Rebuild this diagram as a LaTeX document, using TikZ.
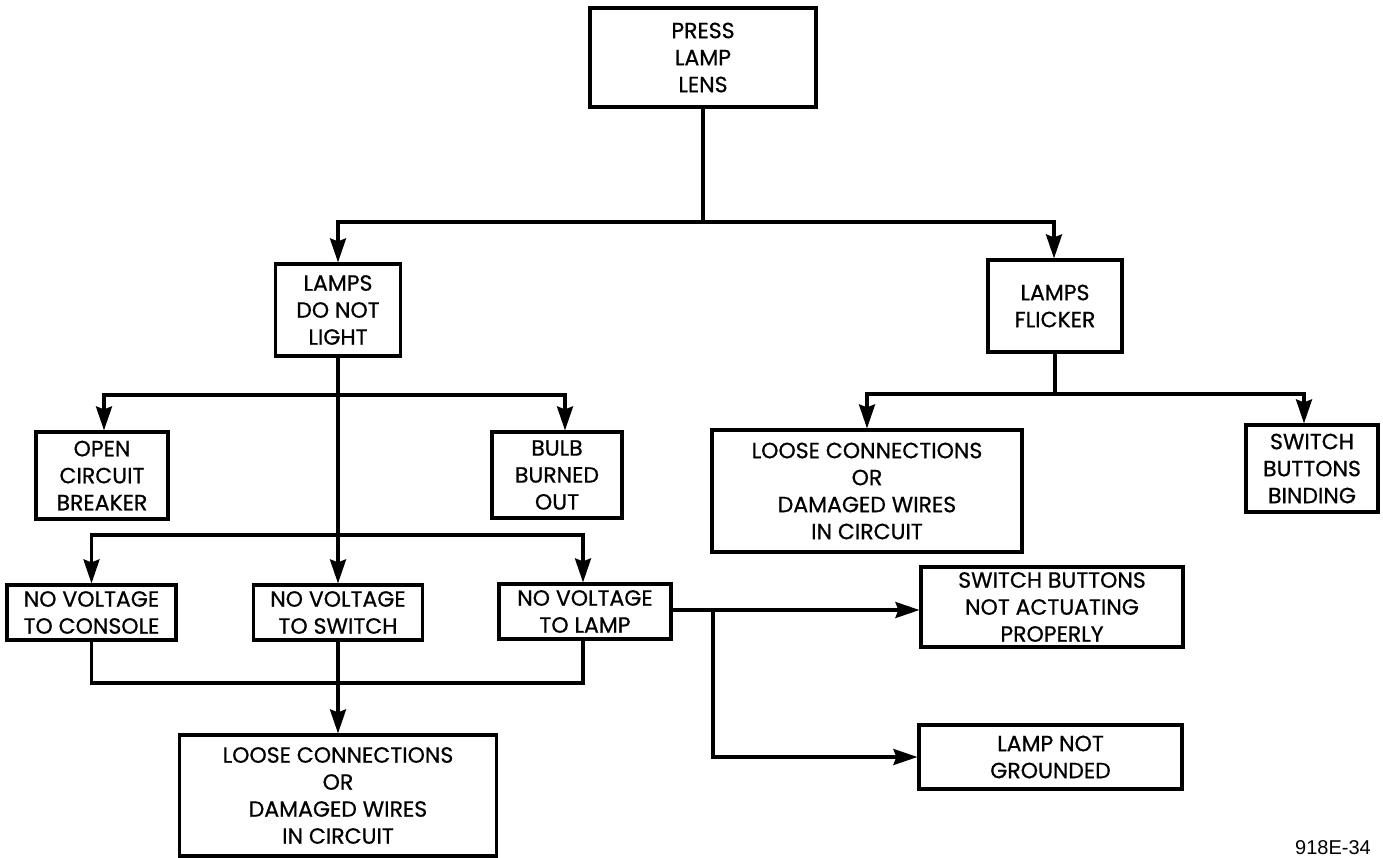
\documentclass[tikz,border=0pt]{standalone}
\usepackage{fontspec}
\setmainfont{Poppins}[FakeBold=0.7]
\newfontfamily\labelfont{Liberation Sans}
\usetikzlibrary{arrows.meta}
\begin{document}
\begin{tikzpicture}[x=1pt,y=-1pt,
  box/.style={draw,line width=3.2pt,rectangle,inner sep=0pt,align=center,
    font=\fontsize{22}{27}\selectfont},
  conn/.style={line width=3.2pt},
  arr/.style={conn,-{Stealth[length=24pt,width=16pt,inset=3pt]}}]
\useasboundingbox (0,0) rectangle (1383,857);
% nodes
\node[box,minimum width=226pt,minimum height=99pt] (press) at (703,57.5) {PRESS\\LAMP\\LENS};
\node[box,minimum width=125pt,minimum height=92pt] (dnl) at (338,310) {LAMPS\\DO NOT\\LIGHT};
\node[box,minimum width=134pt,minimum height=92pt] (flick) at (1055,306) {LAMPS\\FLICKER};
\node[box,minimum width=132pt,minimum height=87pt] (ocb) at (102,475.5) {OPEN\\CIRCUIT\\BREAKER};
\node[box,minimum width=130pt,minimum height=86pt] (bbo) at (557,475) {BULB\\BURNED\\OUT};
\node[box,minimum width=310pt,minimum height=122pt] (loosetwo) at (867,491) {LOOSE CONNECTIONS\\OR\\DAMAGED WIRES\\IN CIRCUIT};
\node[box,minimum width=132pt,minimum height=87pt] (sbb) at (1312,468.5) {SWITCH\\BUTTONS\\BINDING};
\node[box,minimum width=169pt,minimum height=55pt] (nvc) at (91.5,612.5) {NO VOLTAGE\\TO CONSOLE};
\node[box,minimum width=169pt,minimum height=55pt] (nvs) at (338,612.5) {NO VOLTAGE\\TO SWITCH};
\node[box,minimum width=172pt,minimum height=55pt] (nvl) at (585,611.5) {NO VOLTAGE\\TO LAMP};
\node[box,minimum width=317pt,minimum height=121pt] (looseone) at (338,795.5) {LOOSE CONNECTIONS\\OR\\DAMAGED WIRES\\IN CIRCUIT};
\node[box,minimum width=262pt,minimum height=80pt] (sbna) at (1052,607) {SWITCH BUTTONS\\NOT ACTUATING\\PROPERLY};
\node[box,minimum width=263pt,minimum height=64pt] (lng) at (1050.5,757) {LAMP NOT\\GROUNDED};
\node[anchor=north west,inner sep=0pt,font=\labelfont\fontsize{20}{20}\selectfont] (fig) at (1295,840) {918E-34};
% junctions
\coordinate (ta) at (703,222);
\coordinate (tb) at (338,395);
\coordinate (tc) at (338,535);
\coordinate (td) at (338,683);
\coordinate (te) at (713,610);
\coordinate (tf) at (1055,394);
% connectors
\draw[conn] (press.south) -- (ta);
\draw[arr] (ta) -| (dnl.north);
\draw[arr] (ta) -| ([xshift=-1pt]flick.north);
\draw[arr] (dnl.south) -- (nvs.north);
\draw[arr] (tb) -| ([xshift=2pt]ocb.north);
\draw[arr] (tb) -| ([xshift=8pt]bbo.north);
\draw[arr] (tc) -| (nvc.north);
\draw[arr] (tc) -| ([xshift=-2pt]nvl.north);
\draw[conn] (nvc.south) |- (td);
\draw[conn] ([xshift=-2pt]nvl.south) |- (td);
\draw[arr] (nvs.south) -- (looseone.north);
\draw[arr] (nvl.east |- te) -- (te -| sbna.west);
\draw[arr] (te) |- (lng.west);
\draw[conn] (flick.south) -- (tf);
\draw[arr] (tf) -| (loosetwo.north);
\draw[arr] (tf) -| ([xshift=-8pt]sbb.north);
\end{tikzpicture}
\end{document}
